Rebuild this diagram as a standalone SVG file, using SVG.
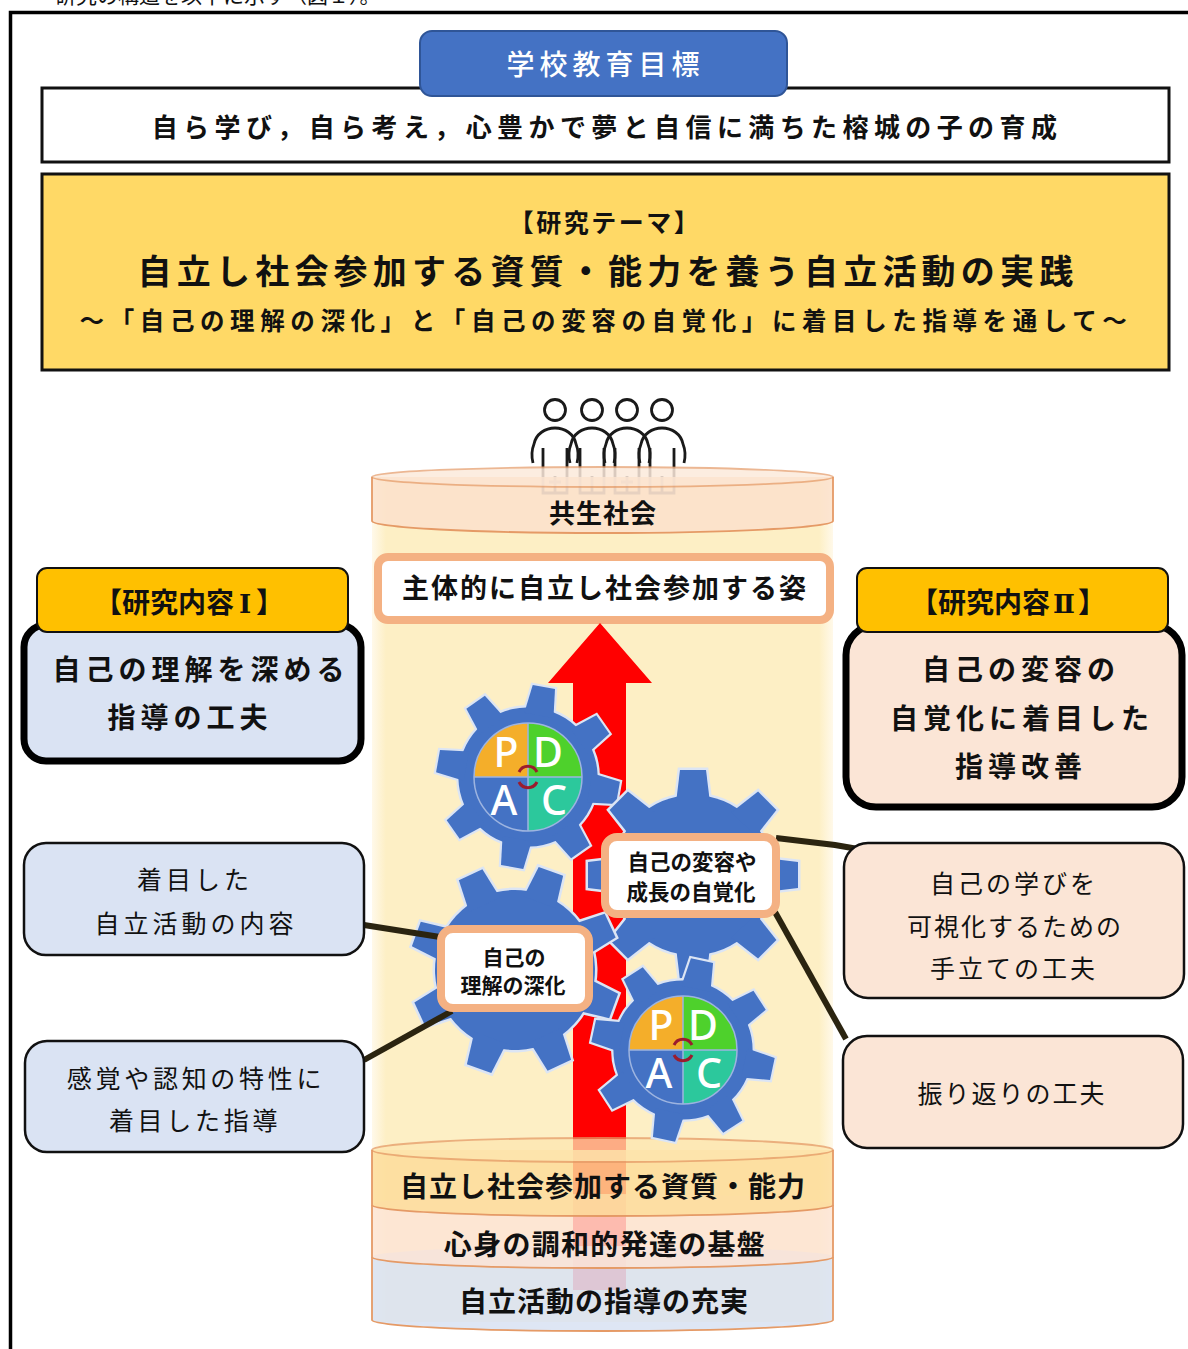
<svg xmlns="http://www.w3.org/2000/svg" xmlns:xlink="http://www.w3.org/1999/xlink" width="1188" height="1349" viewBox="0 0 1188 1349">
<style>
  text{font-family:"Noto Sans CJK JP","Noto Sans",sans-serif;fill:#111}
  .b{font-weight:700}
  .m{font-weight:500}
  .r{font-weight:400}
  .c{text-anchor:middle}
  .tab{fill:#FFC000;stroke:#111;stroke-width:2}
  .heavy{stroke:#000;stroke-width:7}
  .thin{stroke:#111;stroke-width:2.5}
  .blue{fill:#DAE3F3}
  .peach{fill:#FBE5D6}
  .lbl{fill:#fff;stroke:#F4B183;stroke-width:8}
  .conn{stroke:#2B2410;stroke-width:6;fill:none}
  .edge{fill:none;stroke:#E59A66;stroke-width:1.8}
  .pd{font-family:"Noto Sans","Liberation Sans",sans-serif;font-weight:500;font-size:41px;fill:#fff;text-anchor:middle}
  .roman{font-family:"DejaVu Serif","Liberation Serif",serif;font-weight:700}
</style>
<defs>
  <linearGradient id="column" gradientUnits="userSpaceOnUse" x1="372" y1="0" x2="833" y2="0">
    <stop offset="0" stop-color="#FFF9EA"/>
    <stop offset="0.03" stop-color="#FDEFC5"/>
    <stop offset="0.97" stop-color="#FDEFC5"/>
    <stop offset="1" stop-color="#FFF9EA"/>
  </linearGradient>
  <path id="tooth" d="M-17,-72 L-13,-105 L13,-105 L17,-72 Z"/>
  <g id="gear">
    <circle r="80"/>
    <use xlink:href="#tooth"/>
    <use xlink:href="#tooth" transform="rotate(45)"/>
    <use xlink:href="#tooth" transform="rotate(90)"/>
    <use xlink:href="#tooth" transform="rotate(135)"/>
    <use xlink:href="#tooth" transform="rotate(180)"/>
    <use xlink:href="#tooth" transform="rotate(225)"/>
    <use xlink:href="#tooth" transform="rotate(270)"/>
    <use xlink:href="#tooth" transform="rotate(315)"/>
  </g>
  <g id="pdca">
    <path d="M0,0 L-54,0 A54,54 0 0 1 0,-54 Z" fill="#F4AE2A"/>
    <path d="M0,0 L0,-54 A54,54 0 0 1 54,0 Z" fill="#4ED12C"/>
    <path d="M0,0 L54,0 A54,54 0 0 1 0,54 Z" fill="#2CC89C"/>
    <path d="M0,0 L0,54 A54,54 0 0 1 -54,0 Z" fill="#4472C4"/>
    <circle r="54" fill="none" stroke="#9DB4E0" stroke-width="1.5"/>
    <path d="M-54,0 H54 M0,-54 V54" stroke="#9DB4E0" stroke-width="1.5"/>
    <text class="pd" x="-22" y="-10">P</text>
    <text class="pd" x="20" y="-10">D</text>
    <text class="pd" x="-24" y="38">A</text>
    <text class="pd" x="26" y="38">C</text>
    <path d="M-9,-5 A10,10 0 0 1 9,-5 M9,5 A10,10 0 0 1 -9,5" fill="none" stroke="#9B1C2E" stroke-width="3"/>
  </g>
  <clipPath id="topClip"><rect x="0" y="0" width="1188" height="7"/></clipPath>
</defs>

<rect width="1188" height="1349" fill="#fff"/>

<!-- running text above the frame, cut by the page edge -->
<g clip-path="url(#topClip)">
  <text class="r" x="55" y="3" font-size="21" fill="#333">研究の構造を以下に示す（図１）。</text>
</g>

<!-- page frame -->
<path d="M10.5,1349 V12.5 H1188" fill="none" stroke="#000" stroke-width="3.5"/>

<!-- school goal -->
<g id="goal">
  <rect x="42" y="88" width="1127" height="74" fill="#fff" stroke="#111" stroke-width="3"/>
  <text class="b c" x="607" y="137" font-size="26" letter-spacing="5.4">自ら学び，自ら考え，心豊かで夢と自信に満ちた榕城の子の育成</text>
</g>
<g id="goal-tab">
  <rect x="420" y="31" width="367" height="65" rx="12" fill="#4472C4" stroke="#2F5597" stroke-width="2"/>
  <text class="m c" x="605.5" y="75" font-size="28" letter-spacing="5" style="fill:#fff">学校教育目標</text>
</g>

<!-- research theme -->
<g id="theme">
  <rect x="42" y="174" width="1127" height="196" fill="#FFD966" stroke="#111" stroke-width="3"/>
  <text class="b c" x="605" y="232" font-size="25" letter-spacing="2.5">【研究テーマ】</text>
  <text class="b c" x="608" y="284" font-size="34" letter-spacing="5.2">自立し社会参加する資質・能力を養う自立活動の実践</text>
  <text class="b c" x="606" y="330" font-size="24.5" letter-spacing="5.6">～「自己の理解の深化」と「自己の変容の自覚化」に着目した指導を通して～</text>
</g>

<!-- central column -->
<g id="column-body">
  <rect x="372" y="477" width="461" height="845" fill="url(#column)"/>
</g>

<!-- people standing on top -->
<g id="people" fill="none" stroke-width="2.8">
  <g stroke="#1a1a1a">
    <circle cx="555" cy="410" r="10.5"/>
    <circle cx="592" cy="410" r="10.5"/>
    <circle cx="627" cy="410" r="10.5"/>
    <circle cx="662" cy="410" r="10.5"/>
    <path d="M533,463 C531,455 532,449 534,444 C536,434 545,428 555,428 C565,428 574,434 576,444 C578,449 579,455 577,463 M543,448 V467 M567,448 V467"/>
    <path d="M570,463 C568,455 569,449 571,444 C573,434 582,428 592,428 C602,428 611,434 613,444 C615,449 616,455 614,463 M580,448 V467 M604,448 V467"/>
    <path d="M605,463 C603,455 604,449 606,444 C608,434 617,428 627,428 C637,428 646,434 648,444 C650,449 651,455 649,463 M615,448 V467 M639,448 V467"/>
    <path d="M640,463 C638,455 639,449 641,444 C643,434 652,428 662,428 C672,428 681,434 683,444 C685,449 686,455 684,463 M650,448 V467 M674,448 V467"/>
  </g>
  <g stroke="#8a8a8a">
    <path d="M543,467 V493 H567 V467 M555,476 V493 M549,482 H561"/>
    <path d="M580,467 V493 H604 V467 M592,476 V493"/>
    <path d="M615,467 V493 H639 V467 M627,476 V493 M621,482 H633"/>
    <path d="M650,467 V493 H674 V467 M662,476 V493"/>
  </g>
</g>

<g id="society">
  <path d="M372,477 V521 A230.5,12 0 0 0 833,521 V477 Z" fill="#FBE1CC" opacity="0.82"/>
  <ellipse cx="602.5" cy="477" rx="230.5" ry="10" fill="#FCE6D4" opacity="0.7" stroke="#E59A66" stroke-width="1.8"/>
  <path class="edge" d="M372,477 V521 A230.5,12 0 0 0 833,521 V477"/>
  <text class="b c" x="603" y="523" font-size="26" letter-spacing="1">共生社会</text>
</g>

<g id="aim">
  <rect class="lbl" x="378" y="557" width="452" height="63" rx="10"/>
  <text class="b c" x="605" y="598" font-size="27" letter-spacing="2">主体的に自立し社会参加する姿</text>
</g>

<!-- upward arrow -->
<g id="arrow">
  <path d="M600,623 L652,683 L626,683 L626,1290 L573,1290 L573,683 L548,683 Z" fill="#FF0000"/>
</g>

<!-- foundation layers -->
<g id="layer-3">
  <path d="M372,1257 V1320 A230.5,11 0 0 0 833,1320 V1257 A230.5,11 0 0 0 372,1257 Z" fill="#DAE3F3" opacity="0.88"/>
  <path class="edge" d="M372,1257 V1320 A230.5,11 0 0 0 833,1320 V1257"/>
  <text class="b c" x="604" y="1312" font-size="28" letter-spacing="1">自立活動の指導の充実</text>
</g>
<g id="layer-2">
  <path d="M372,1205 V1257 A230.5,11 0 0 0 833,1257 V1205 A230.5,11 0 0 0 372,1205 Z" fill="#FCE4D6" opacity="0.82"/>
  <path class="edge" d="M372,1205 V1257 A230.5,11 0 0 0 833,1257 V1205"/>
  <text class="b c" x="605" y="1255" font-size="28" letter-spacing="1.3">心身の調和的発達の基盤</text>
</g>
<g id="layer-1">
  <path d="M372,1150 V1205 A230.5,11 0 0 0 833,1205 V1150 Z" fill="#FCDC98" opacity="0.82"/>
  <ellipse cx="602.5" cy="1150" rx="230.5" ry="12" fill="#FDE6B0" opacity="0.75" stroke="#E59A66" stroke-width="1.8"/>
  <path class="edge" d="M372,1150 V1205 A230.5,11 0 0 0 833,1205 V1150"/>
  <text class="b c" x="603" y="1197" font-size="28" letter-spacing="1">自立し社会参加する資質・能力</text>
</g>

<!-- gears -->
<g id="gear-pdca-top" transform="translate(528,777)">
  <g transform="rotate(10) scale(0.87)">
    <use xlink:href="#gear" fill="none" stroke="#DCE5F4" stroke-width="5"/>
    <use xlink:href="#gear" fill="#4472C4"/>
  </g>
  <use xlink:href="#pdca"/>
</g>
<g id="gear-change" transform="translate(693,875) rotate(0)">
  <use xlink:href="#gear" fill="none" stroke="#DCE5F4" stroke-width="5"/>
  <use xlink:href="#gear" fill="#4472C4"/>
</g>
<g id="gear-understanding" transform="translate(515,970) rotate(20)">
  <use xlink:href="#gear" fill="none" stroke="#DCE5F4" stroke-width="5"/>
  <use xlink:href="#gear" fill="#4472C4"/>
</g>
<g id="gear-pdca-bottom" transform="translate(683,1050)">
  <g transform="rotate(12) scale(0.87)">
    <use xlink:href="#gear" fill="none" stroke="#DCE5F4" stroke-width="5"/>
    <use xlink:href="#gear" fill="#4472C4"/>
  </g>
  <use xlink:href="#pdca"/>
</g>

<!-- connectors -->
<g id="connectors">
  <path class="conn" d="M364,925 L440,937"/>
  <path class="conn" d="M364,1060 L452,1011"/>
  <path class="conn" d="M776,838 L835,845 L858,849"/>
  <path class="conn" d="M775,912 L846,1039"/>
</g>

<!-- labels on the gears -->
<g id="label-understanding">
  <rect class="lbl" x="441" y="929" width="148" height="79" rx="12"/>
  <text class="b c" x="514" y="965" font-size="21">自己の</text>
  <text class="b c" x="513" y="993" font-size="21">理解の深化</text>
</g>
<g id="label-change">
  <rect class="lbl" x="605" y="837" width="171" height="77" rx="12"/>
  <text class="b c" x="692" y="870" font-size="21.5">自己の変容や</text>
  <text class="b c" x="691" y="900" font-size="21.5">成長の自覚化</text>
</g>

<!-- research content I -->
<g id="content-1">
  <rect class="blue heavy" x="24" y="625" width="337" height="136" rx="22"/>
  <rect class="tab" x="37" y="568" width="311" height="64" rx="10"/>
  <text class="b c" x="189" y="613" font-size="28">【研究内容<tspan class="roman" dx="5" font-size="26">Ⅰ</tspan><tspan dx="5">】</tspan></text>
  <text class="b c" x="201" y="680" font-size="28" letter-spacing="5">自己の理解を深める</text>
  <text class="b c" x="190" y="728" font-size="28" letter-spacing="5">指導の工夫</text>
</g>

<!-- research content II -->
<g id="content-2">
  <rect class="peach heavy" x="846" y="625" width="336" height="182" rx="30"/>
  <rect class="tab" x="857" y="568" width="311" height="64" rx="10"/>
  <text class="b c" x="1008" y="613" font-size="28">【研究内容<tspan class="roman" dx="3" font-size="26">Ⅱ</tspan><tspan dx="3">】</tspan></text>
  <text class="b c" x="1021" y="680" font-size="28" letter-spacing="5">自己の変容の</text>
  <text class="b c" x="1022" y="729" font-size="28" letter-spacing="5">自覚化に着目した</text>
  <text class="b c" x="1021" y="777" font-size="28" letter-spacing="5">指導改善</text>
</g>

<!-- supporting items -->
<g id="item-activity">
  <rect class="blue thin" x="24" y="843" width="340" height="112" rx="22"/>
  <text class="r c" x="195" y="889" font-size="25" letter-spacing="4">着目した</text>
  <text class="r c" x="196" y="933" font-size="25" letter-spacing="4">自立活動の内容</text>
</g>
<g id="item-sensory">
  <rect class="blue thin" x="25" y="1041" width="339" height="111" rx="22"/>
  <text class="r c" x="196" y="1088" font-size="25" letter-spacing="3.7">感覚や認知の特性に</text>
  <text class="r c" x="195" y="1130" font-size="25" letter-spacing="3.7">着目した指導</text>
</g>
<g id="item-visualize">
  <rect class="peach thin" x="844" y="843" width="340" height="155" rx="24"/>
  <text class="r c" x="1014" y="893" font-size="25" letter-spacing="3">自己の学びを</text>
  <text class="r c" x="1015" y="936" font-size="25" letter-spacing="2">可視化するための</text>
  <text class="r c" x="1014" y="978" font-size="25" letter-spacing="3">手立ての工夫</text>
</g>
<g id="item-reflect">
  <rect class="peach thin" x="843" y="1036" width="340" height="112" rx="24"/>
  <text class="r c" x="1012" y="1103" font-size="25" letter-spacing="2">振り返りの工夫</text>
</g>
</svg>
